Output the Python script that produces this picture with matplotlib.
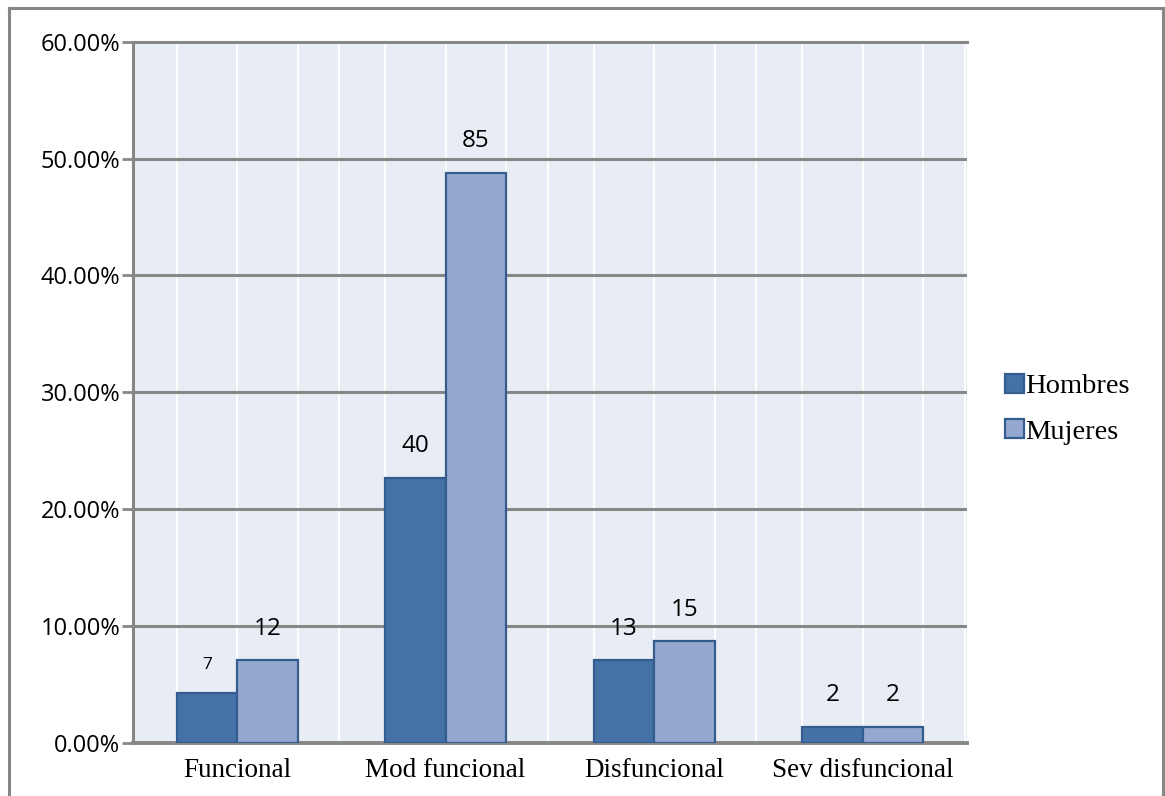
import numpy as np
import matplotlib
matplotlib.use("Agg")
import matplotlib.pyplot as plt
from matplotlib.lines import Line2D

categorias = ["Funcional", "Mod funcional", "Disfuncional", "Sev disfuncional"]
hombres_pct = [4.3, 22.7, 7.1, 1.4]
mujeres_pct = [7.1, 48.8, 8.7, 1.4]
hombres_n = [7, 40, 13, 2]
mujeres_n = [12, 85, 15, 2]
y_ticks = [0, 10, 20, 30, 40, 50, 60]

c_hombres = "#4472a6"
c_mujeres = "#95a9d0"
c_borde = "#345c8f"
c_grid = "#878787"

fig = plt.figure(figsize=(11.65, 7.96), dpi=100)
ax = fig.add_axes([0.114, 0.0666, 0.716, 0.881])
ax.set_facecolor("#e8ecf4")

x = np.arange(len(categorias))
w = 0.29

# white vertical lines at the bar edges and category borders
for c in x:
    for dx in (-w, 0, w, 0.49):
        ax.axvline(c + dx, color="white", lw=1.3, zorder=1)

for t in y_ticks[1:-1]:
    ax.axhline(t, color=c_grid, lw=2.2, zorder=2)

b1 = ax.bar(x - w / 2, hombres_pct, w, color=c_hombres, edgecolor=c_borde,
            linewidth=1.6, zorder=3, label="Hombres")
b2 = ax.bar(x + w / 2, mujeres_pct, w, color=c_mujeres, edgecolor=c_borde,
            linewidth=1.6, zorder=3, label="Mujeres")

lab1 = ax.bar_label(b1, labels=[str(v) for v in hombres_n], padding=14,
                    fontsize=17.5, family="Open Sans")
lab2 = ax.bar_label(b2, labels=[str(v) for v in mujeres_n], padding=14,
                    fontsize=17.5, family="Open Sans")
lab1[0].set_fontsize(12.5)

ax.set_xlim(-0.5, 3.5)
ax.set_ylim(0, 60)
ax.set_yticks(y_ticks)
ax.set_yticklabels([f"{t:.2f}%" for t in y_ticks], fontsize=17,
                   family="Open Sans")
ax.set_xticks(x)
ax.set_xticklabels(categorias, fontsize=19.5, family="Liberation Serif")
ax.tick_params(axis="x", length=0, pad=11)
ax.tick_params(axis="y", length=8, width=2, color=c_grid, pad=1)

for s in ("left", "bottom", "top"):
    ax.spines[s].set_color(c_grid)
    ax.spines[s].set_linewidth(2.2)
ax.spines["bottom"].set_linewidth(2.8)
ax.spines["right"].set_visible(False)

fig.legend(handles=[b1, b2], labels=["Hombres", "Mujeres"],
           loc="center left", bbox_to_anchor=(0.853, 0.486), frameon=False,
           prop={"family": "Liberation Serif", "size": 20.5},
           handlelength=0.65, handleheight=0.65, handletextpad=0.05,
           labelspacing=0.7, borderaxespad=0)

# outer frame of the chart
for xs, ys in (([0.008, 0.008], [0.0, 0.99]),
               ([0.008, 0.9985], [0.99, 0.99]),
               ([0.9985, 0.9985], [0.0, 0.99])):
    fig.add_artist(Line2D(xs, ys, color=c_grid, lw=2.2,
                          transform=fig.transFigure))

fig.savefig("out.png", dpi=100)
